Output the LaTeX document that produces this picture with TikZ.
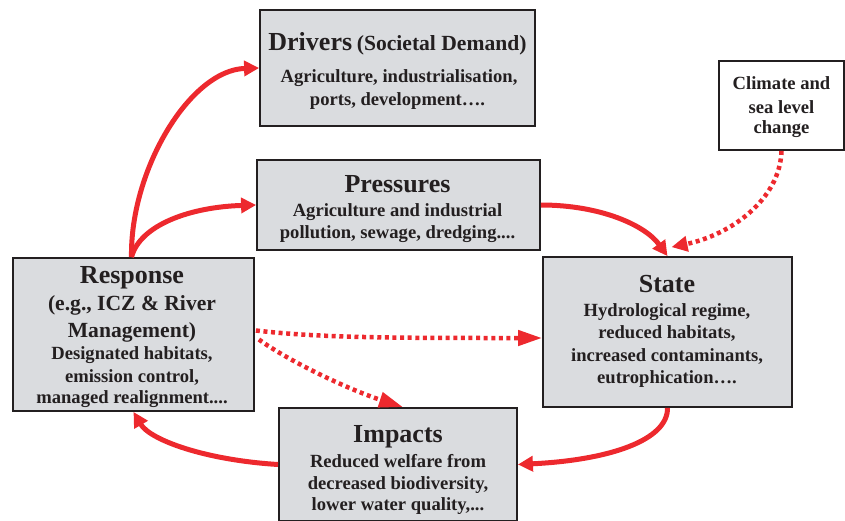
\documentclass[tikz,border=0pt]{standalone}
\usepackage{fontspec}
\setmainfont{Liberation Serif}
\usetikzlibrary{arrows.meta,calc}
\definecolor{boxfill}{RGB}{218,220,223}
\definecolor{ink}{RGB}{35,31,32}
\definecolor{flow}{RGB}{237,41,46}
\newcommand{\ttl}{\fontsize{26}{28}\selectfont}
\newcommand{\sub}{\fontsize{21.6}{24}\selectfont}
\newcommand{\bdy}{\fontsize{18.6}{22}\selectfont}
\begin{document}
\begin{tikzpicture}[x=1pt,y=-1pt,
  block/.style={draw=ink,line width=1.8pt,fill=boxfill,inner sep=0pt},
  plain/.style={draw=ink,line width=1.8pt,fill=white,inner sep=0pt},
  txt/.style={anchor=base,inner sep=0pt,text=ink,font=\bfseries\bdy},
  solidflow/.style={draw=flow,line width=5pt,
    -{Triangle[length=15pt,width=15pt]}},
  dotflow/.style={draw=flow,line width=4.5pt,dash pattern=on 4pt off 3.6pt,
    -{Triangle[length=24pt,width=15pt]}},
  dotflowsmall/.style={draw=flow,line width=4.5pt,dash pattern=on 4pt off 3.6pt,
    -{Triangle[length=16pt,width=15pt]}}]
\useasboundingbox (0,0) rectangle (845,520);

% boxes
\node[block,minimum width=275pt,minimum height=116pt] (drivers) at (397.5,68) {};
\node[block,minimum width=283pt,minimum height=90pt] (pressures) at (398.5,205) {};
\node[block,minimum width=241pt,minimum height=153pt] (response) at (133.5,334.5) {};
\node[block,minimum width=249pt,minimum height=150pt] (state) at (667.5,332) {};
\node[block,minimum width=238pt,minimum height=113pt] (impacts) at (398,464.5) {};
\node[plain,minimum width=125pt,minimum height=89pt] (climate) at (781.5,105.5) {};

% Drivers
\node[txt] (dr1) at (397.5,50) {{\ttl Drivers} {\sub (Societal Demand)}};
\node[txt] (dr2) at (399,82) {Agriculture, industrialisation,};
\node[txt] (dr3) at (397.5,105) {ports, development\dots.};

% Pressures
\node[txt,font=\bfseries\ttl] (pr1) at (397.5,192) {Pressures};
\node[txt] (pr2) at (397.5,216) {Agriculture and industrial};
\node[txt] (pr3) at (397.5,238) {pollution, sewage, dredging....};

% Response
\node[txt,font=\bfseries\ttl] (re1) at (132,283) {Response};
\node[txt,font=\bfseries\sub] (re2) at (132,310) {(e.g., ICZ \& River};
\node[txt,font=\bfseries\sub] (re3) at (132,337) {Management)};
\node[txt] (re4) at (132,359) {Designated habitats,};
\node[txt] (re5) at (132,382) {emission control,};
\node[txt] (re6) at (132,403) {managed realignment....};

% State
\node[txt,font=\bfseries\ttl] (st1) at (667,292) {State};
\node[txt] (st2) at (667,316) {Hydrological regime,};
\node[txt] (st3) at (667,338) {reduced habitats,};
\node[txt] (st4) at (667,361) {increased contaminants,};
\node[txt] (st5) at (667,383) {eutrophication\dots.};

% Impacts
\node[txt,font=\bfseries\ttl] (im1) at (398,442) {Impacts};
\node[txt] (im2) at (398,467) {Reduced welfare from};
\node[txt] (im3) at (398,489) {decreased biodiversity,};
\node[txt] (im4) at (398,510) {lower water quality,...};

% Climate
\node[txt] (cl1) at (781.5,89) {Climate and};
\node[txt] (cl2) at (781.5,113) {sea level};
\node[txt] (cl3) at (781.5,133) {change};

% solid cycle
\coordinate (rtop) at ($(response.north)+(-2,0)$);
\draw[solidflow] (rtop) .. controls (130,170) and (190,70) .. (drivers.west);
\draw[solidflow] (rtop) .. controls (140,225) and (190,207) .. (pressures.west);
\draw[solidflow] (pressures.east) .. controls (600,205) and (645,225) .. (state.north);
\draw[solidflow] (state.south) .. controls (668,440) and (610,460) .. (impacts.east);
\draw[solidflow] (impacts.west) .. controls (205,460) and (150,440) .. (response.south);

% dotted influences
\coordinate (cltip) at ($(state.north)+(4,-9)$);
\draw[dotflowsmall] (climate.south) .. controls (780,200) and (730,235) .. (cltip);
\coordinate (rs1) at ($(response.east)+(1,-4)$);
\coordinate (stw) at ($(state.west)+(0,6)$);
\draw[dotflow] (rs1) .. controls (320,338) and (400,338) .. (stw);
\coordinate (rs2) at ($(response.east)+(4,5)$);
\draw[dotflow] (rs2) .. controls (290,362) and (350,390) .. ($(impacts.north)+(5,0)$);
\end{tikzpicture}
\end{document}
